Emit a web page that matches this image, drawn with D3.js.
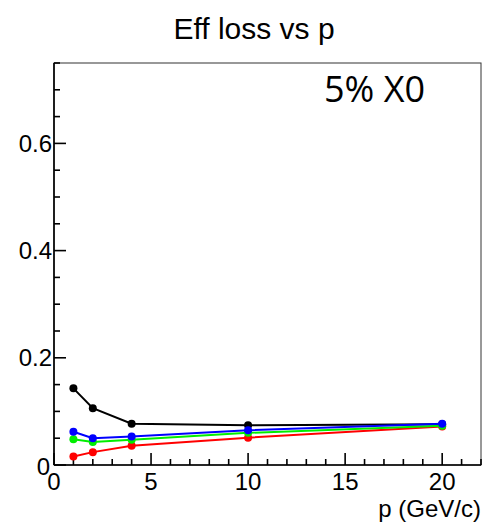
<!DOCTYPE html>
<html>
<head>
<meta charset="utf-8">
<script src="https://cdn.jsdelivr.net/npm/d3@7"></script>
<style>
  html, body { margin: 0; padding: 0; background: #fff; }
  svg { display: block; }
</style>
</head>
<body>
<svg id="chart" width="483" height="523"></svg>
<script>
// Momentum points (GeV/c)
const momenta = [1, 2, 4, 10, 20];

// Efficiency loss per configuration
const blackLoss = [0.143, 0.106, 0.077, 0.074, 0.076];
const redLoss   = [0.016, 0.024, 0.036, 0.051, 0.072];
const greenLoss = [0.048, 0.043, 0.047, 0.060, 0.073];
const blueLoss  = [0.062, 0.050, 0.053, 0.065, 0.077];

const seriesColors = ["#000000", "#ff0000", "#00ee00", "#0000ff"];
const yTickLabels = [0, 0.2, 0.4, 0.6];
const xTickLabels = [0, 5, 10, 15, 20];

const svg = d3.select("#chart");
const frame = { left: 54, right: 481, top: 63, bottom: 465 };

const x = d3.scaleLinear().domain([0, 22]).range([frame.left, frame.right]);
const y = d3.scaleLinear().domain([0, 0.75]).range([frame.bottom, frame.top]);

const font = "'Liberation Sans', Arial, Helvetica, sans-serif";

// Frame
svg.append("rect")
  .attr("x", frame.left).attr("y", frame.top)
  .attr("width", frame.right - frame.left).attr("height", frame.bottom - frame.top)
  .attr("fill", "none").attr("stroke", "#333").attr("stroke-width", 1);

// Axes: ticks pointing into the plot
const xMajor = d3.range(0, 21, 5);
const xMinor = d3.range(0, 22.01, 1).filter(v => v % 5 !== 0);
const yMajor = [0, 0.2, 0.4, 0.6];
const yMinor = d3.range(0, 0.751, 0.05).map(v => +v.toFixed(2)).filter(v => !yMajor.includes(v));

const axisG = svg.append("g").attr("stroke", "#000").attr("stroke-width", 1.6);
axisG.append("line").attr("x1", frame.left).attr("x2", frame.right)
  .attr("y1", frame.bottom).attr("y2", frame.bottom);
axisG.append("line").attr("x1", frame.left).attr("x2", frame.left)
  .attr("y1", frame.top).attr("y2", frame.bottom);

axisG.selectAll(".xmaj").data(xMajor).join("line")
  .attr("x1", d => x(d)).attr("x2", d => x(d))
  .attr("y1", frame.bottom).attr("y2", frame.bottom - 12);
axisG.selectAll(".xmin").data(xMinor).join("line")
  .attr("x1", d => x(d)).attr("x2", d => x(d))
  .attr("y1", frame.bottom).attr("y2", frame.bottom - 6);
axisG.selectAll(".ymaj").data(yMajor).join("line")
  .attr("x1", frame.left).attr("x2", frame.left + 12)
  .attr("y1", d => y(d)).attr("y2", d => y(d));
axisG.selectAll(".ymin").data(yMinor).join("line")
  .attr("x1", frame.left).attr("x2", frame.left + 6)
  .attr("y1", d => y(d)).attr("y2", d => y(d));

// Tick labels
svg.append("g").selectAll("text").data(xTickLabels).join("text")
  .attr("x", d => x(d)).attr("y", 490)
  .attr("text-anchor", "middle")
  .attr("font-family", font).attr("font-size", 24).attr("fill", "#000")
  .text(d => d3.format("")(d));

svg.append("g").selectAll("text").data(yTickLabels).join("text")
  .attr("x", d => d === 0 ? 50 : 52).attr("y", d => y(d) + (d === 0 ? 10 : 8.5))
  .attr("text-anchor", "end")
  .attr("font-family", font).attr("font-size", 24).attr("fill", "#000")
  .text(d => d === 0 ? "0" : d3.format(".1f")(d));

// Titles
svg.append("text").attr("x", 254).attr("y", 39)
  .attr("text-anchor", "middle")
  .attr("font-family", font).attr("font-size", 30).attr("fill", "#000")
  .text("Eff loss vs p");

svg.append("text").attr("x", 481).attr("y", 517)
  .attr("text-anchor", "end")
  .attr("font-family", font).attr("font-size", 24).attr("fill", "#000")
  .text("p (GeV/c)");

svg.append("text").attr("x", 324).attr("y", 102)
  .attr("font-family", "'Open Sans', 'Noto Sans', sans-serif").attr("font-size", 36).attr("fill", "#000")
  .text("5% X0");

// Series
const series = [blackLoss, redLoss, greenLoss, blueLoss].map((vals, i) => ({
  color: seriesColors[i],
  points: momenta.map((p, j) => ({ p, v: vals[j] }))
}));

const line = d3.line().x(d => x(d.p)).y(d => y(d.v));

const sg = svg.append("g").selectAll("g").data(series).join("g");
sg.append("path")
  .attr("d", d => line(d.points))
  .attr("fill", "none").attr("stroke", d => d.color).attr("stroke-width", 2);
sg.selectAll("circle").data(d => d.points.map(pt => ({ ...pt, color: d.color }))).join("circle")
  .attr("cx", d => x(d.p)).attr("cy", d => y(d.v)).attr("r", 4)
  .attr("fill", d => d.color);
</script>
</body>
</html>
